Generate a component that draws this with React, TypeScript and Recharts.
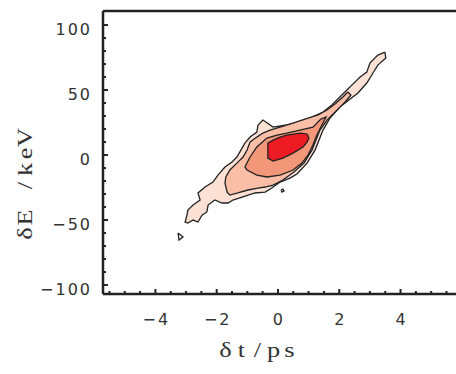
import React from "react";
import { ScatterChart, Scatter, XAxis, YAxis, ReferenceLine } from "recharts";

// contour outlines, [dt (ps), dE (keV)], outermost level first
const level1 = [
  [3.49, 79.2], [3.26, 76.9], [3.0, 70.8], [2.9, 63.8], [2.68, 60.0], [2.41, 53.8],
  [2.25, 50.0], [2.02, 44.6], [1.76, 38.5], [1.47, 33.1], [1.04, 28.5], [0.72, 25.4],
  [0.29, 23.1], [-0.16, 21.5], [-0.49, 26.9], [-0.65, 23.1], [-0.69, 17.7], [-0.91, 13.8],
  [-1.08, 9.2], [-1.21, 3.8], [-1.34, -1.5], [-1.5, -5.4], [-1.73, -9.2], [-1.96, -15.4],
  [-2.12, -20.8], [-2.38, -24.6], [-2.61, -29.2], [-2.54, -34.6], [-2.77, -38.5],
  [-2.94, -42.3], [-2.97, -46.2], [-3.03, -51.5], [-2.94, -52.3], [-2.77, -50.0],
  [-2.61, -51.5], [-2.48, -46.2], [-2.32, -43.8], [-2.28, -38.5], [-2.06, -34.6],
  [-1.83, -36.9], [-1.63, -36.9], [-1.47, -34.6], [-1.17, -32.3], [-0.75, -29.2],
  [-0.42, -28.5], [-0.2, -25.4], [0.07, -20.8], [0.39, -17.7], [0.62, -14.6],
  [0.95, -6.2], [1.21, 3.8], [1.47, 19.2], [1.7, 28.5], [2.02, 36.9], [2.61, 47.7],
  [2.9, 55.4], [3.1, 63.1], [3.26, 69.2], [3.52, 74.6], [3.49, 79.2],
];
const level2 = [
  [2.28, 48.5], [2.12, 44.6], [1.86, 39.2], [1.6, 34.6], [1.31, 30.8], [0.88, 27.7],
  [0.49, 24.6], [0.07, 21.5], [-0.26, 19.2], [-0.49, 16.9], [-0.69, 13.8], [-0.91, 10.0],
  [-1.01, 3.8], [-1.14, -1.5], [-1.34, -6.2], [-1.57, -11.5], [-1.7, -16.9],
  [-1.73, -21.5], [-1.66, -28.5], [-1.57, -30.8], [-1.31, -29.2], [-0.98, -26.9],
  [-0.65, -25.4], [-0.42, -24.6], [-0.16, -23.1], [0.16, -19.2], [0.52, -13.1],
  [0.85, -6.2], [1.11, 3.8], [1.37, 19.2], [1.6, 26.9], [1.89, 33.8], [2.19, 40.8],
  [2.38, 46.2], [2.28, 48.5],
];
const level3 = [
  [-1.08, -9.2], [-0.91, -1.5], [-0.69, 6.2], [-0.36, 13.1], [-0.03, 15.4], [0.29, 16.9],
  [0.72, 19.2], [1.14, 21.5], [1.4, 27.7], [1.57, 29.2], [1.5, 26.2], [1.27, 15.4],
  [1.14, 7.7], [0.98, 0.0], [0.78, -6.2], [0.49, -11.5], [0.07, -15.4], [-0.36, -16.9],
  [-0.69, -15.4], [-1.01, -11.5], [-1.08, -9.2],
];
const level4 = [
  [-0.33, 3.8], [-0.33, 9.2], [-0.16, 11.5], [0.07, 13.8], [0.29, 15.4], [0.72, 16.9],
  [0.95, 16.2], [1.01, 13.1], [0.95, 10.0], [0.82, 6.2], [0.49, 1.5], [0.16, -2.3],
  [-0.16, -4.6], [-0.33, -2.3], [-0.33, 3.8],
];
const islandA = [[-3.26, -60.0], [-3.1, -63.0], [-3.23, -65.4], [-3.26, -60.0]];
const islandB = [[0.1, -26.9], [0.16, -26.2], [0.2, -27.7], [0.13, -28.5], [0.1, -26.9]];

const levelColors = ["#fde1d5", "#f9bea5", "#f39779", "#ed1c24"];

const xTicks = [-5.5, -5, -4.5, -4, -3.5, -3, -2.5, -2, -1.5, -1, -0.5, 0, 0.5, 1, 1.5, 2, 2.5, 3, 3.5, 4, 4.5, 5, 5.5];
const xMajor = [-4, -2, 0, 2, 4];
const yTicks = [-100, -90, -80, -70, -60, -50, -40, -30, -20, -10, 0, 10, 20, 30, 40, 50, 60, 70, 80, 90, 100];
const yMajor = [-100, -50, 0, 50, 100];
const xDomain = [-5.71, 5.81];
const yDomain = [-106.9, 110.8];

const xTitle = "δt/ps";
const yTitle = "δE /keV";

const ink = "#222";
const tickFont = { fontFamily: "DejaVu Sans", fontSize: 16, fill: "#333", letterSpacing: 2 };

const toPoints = (arr: number[][]) => arr.map(([x, y]) => ({ x, y }));
const fmt = (v: number) => (v < 0 ? "\u2212" + Math.abs(v) : String(v));
const noDot = () => <g />;

// typewriter-style title: one fixed cell per character, glyphs stretched a little
const MonoTitle = ({ text, transform }: { text: string; transform: string }) => {
  const cell = 16;
  const sx = 1.2;
  const chars = Array.from(text);
  return (
    <g transform={transform}>
      <text transform={`scale(${sx},1)`} textAnchor="middle" fontFamily="Liberation Serif" fontSize={22} fill="#333">
        {chars.map((c, i) => (
          <tspan key={i} x={((i - (chars.length - 1) / 2) * cell) / sx} y={0}>
            {c}
          </tspan>
        ))}
      </text>
    </g>
  );
};

const XTick = (props: any) => {
  const { x, y, payload } = props;
  const major = xMajor.includes(payload.value);
  return (
    <g>
      <line x1={x} x2={x} y1={y} y2={y - (major ? 5 : 3)} stroke={ink} strokeWidth={2} />
      {major && (
        <text x={x + 1} y={y + 31} textAnchor="middle" {...tickFont}>
          {fmt(payload.value)}
        </text>
      )}
    </g>
  );
};

const YTick = (props: any) => {
  const { x, y, payload } = props;
  const major = yMajor.includes(payload.value);
  return (
    <g>
      <line x1={x} x2={x + (major ? 5 : 3)} y1={y} y2={y} stroke={ink} strokeWidth={2} />
      {major && (
        <text x={x - 11} y={y + 10} textAnchor="end" {...tickFont}>
          {fmt(payload.value)}
        </text>
      )}
    </g>
  );
};

const contour = (data: number[][], fill: string, key: string) => (
  <Scatter
    key={key}
    data={toPoints(data)}
    shape={noDot}
    line={{ fill, stroke: ink, strokeWidth: 1.3 }}
    lineJointType="linear"
    isAnimationActive={false}
  />
);

export default function App() {
  return (
    <div style={{ position: "absolute", left: 0, top: 0, width: 456, height: 374, overflow: "hidden", background: "#fff" }}>
      <ScatterChart width={456} height={374} margin={{ top: 11, right: 0, bottom: 20, left: 43 }}>
        <XAxis
          type="number"
          dataKey="x"
          domain={xDomain}
          ticks={xTicks}
          interval={0}
          height={60}
          tickSize={0}
          tickMargin={0}
          tickLine={false}
          tick={<XTick />}
          axisLine={{ stroke: ink, strokeWidth: 2.5 }}
          label={{
            content: ({ viewBox }: any) => (
              <MonoTitle
                text={xTitle}
                transform={`translate(${viewBox.x + viewBox.width / 2 - 22}, ${viewBox.y + 63})`}
              />
            ),
          }}
        />
        <YAxis
          type="number"
          dataKey="y"
          domain={yDomain}
          ticks={yTicks}
          interval={0}
          width={60}
          tickSize={0}
          tickMargin={0}
          tickLine={false}
          tick={<YTick />}
          axisLine={{ stroke: ink, strokeWidth: 2.5 }}
          label={{
            content: ({ viewBox }: any) => (
              <MonoTitle
                text={yTitle}
                transform={`translate(${viewBox.x - 11}, ${viewBox.y + viewBox.height / 2 + 33}) rotate(-90)`}
              />
            ),
          }}
        />
        <ReferenceLine y={yDomain[1]} stroke={ink} strokeWidth={2.5} />
        {contour(level1, levelColors[0], "l1")}
        {contour(level2, levelColors[1], "l2")}
        {contour(level3, levelColors[2], "l3")}
        {contour(level4, levelColors[3], "l4")}
        {contour(islandA, "#fff", "ia")}
        {contour(islandB, levelColors[0], "ib")}
      </ScatterChart>
    </div>
  );
}
